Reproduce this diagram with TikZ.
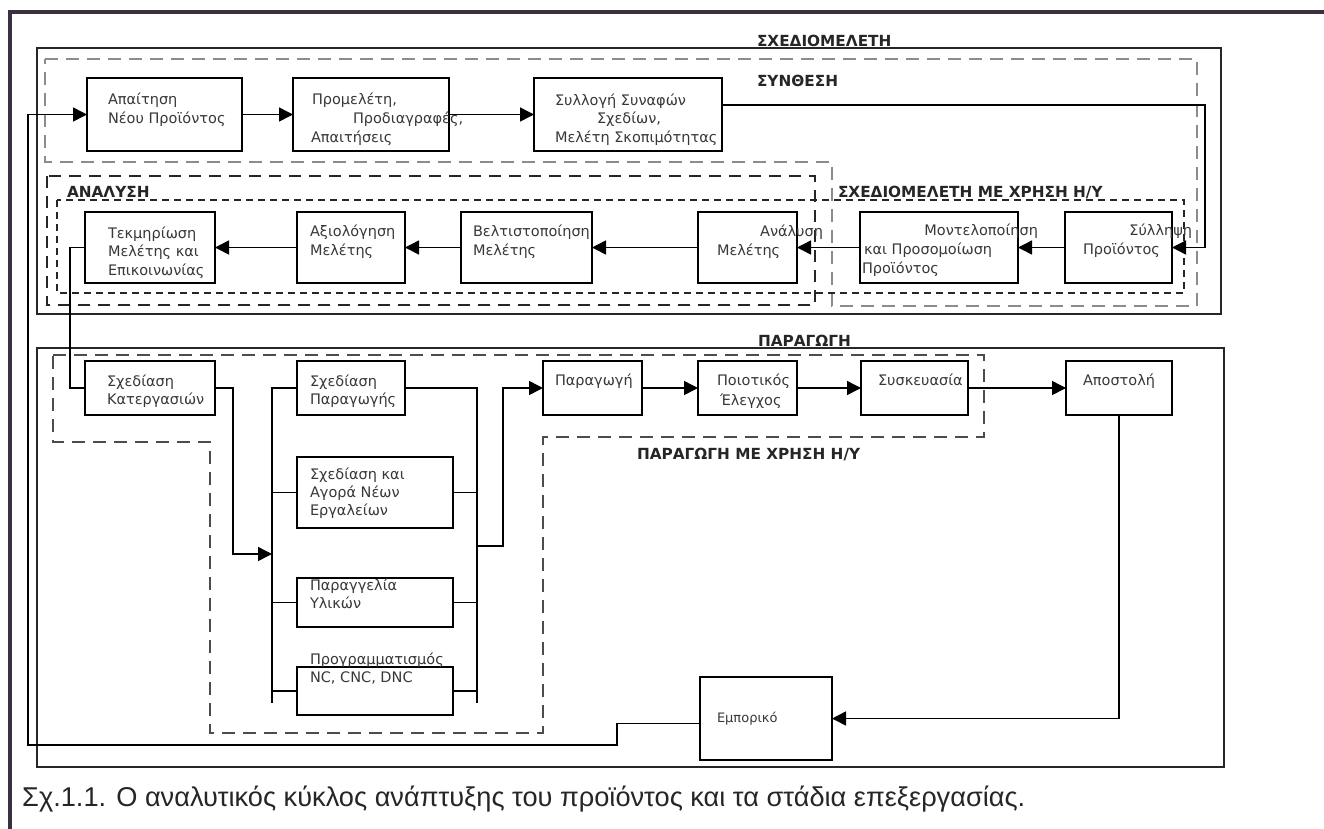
\documentclass[tikz,border=0pt]{standalone}
\usepackage{fontspec}
\setmainfont{DejaVu Sans}
\newfontfamily\capfont{Liberation Sans}
\usetikzlibrary{arrows.meta}

\tikzset{
  box/.style={draw, rectangle, line width=1.5pt, inner sep=0pt, outer sep=0pt},
  txt/.style={anchor=base west, inner sep=0pt, outer sep=0pt,
              font=\fontsize{14.5}{17}\selectfont, text=black!78},
  txtr/.style={txt, anchor=base east},
  hdr/.style={anchor=base west, inner sep=0pt, outer sep=0pt,
              font=\bfseries\fontsize{15.3}{18}\selectfont, text=black!85},
  wire/.style={line width=1.5pt},
  arr/.style={wire, -{Triangle[length=14pt,width=14pt]}},
  panel/.style={line width=1.6pt, draw=black!85},
  outerframe/.style={line width=3.2pt, draw={rgb,255:red,58;green,48;blue,64}},
  zoneG/.style={line width=2pt, draw=black!45, dash pattern=on 13pt off 8pt},
  zoneB/.style={line width=1.6pt, draw=black!85, dash pattern=on 12pt off 8pt},
  zoneS/.style={line width=1.5pt, draw=black!85, dash pattern=on 7pt off 5pt},
  zoneP/.style={line width=1.8pt, draw=black!70, dash pattern=on 13pt off 8pt},
}

\begin{document}
\begin{tikzpicture}[x=1pt, y=-1pt]
\useasboundingbox (0,0) rectangle (1324,828);
\fill[white] (0,0) rectangle (1324,828);

% page frame (left and top edges)
\draw[outerframe] (10,840) -- (10,12) -- (1330,12);

% ---------------- design stage ----------------
\draw[panel] (37,48) rectangle (1221,314);
\node[hdr] (hDesign) at (757,46) {ΣΧΕΔΙΟΜΕΛΕΤΗ};

% synthesis zone
\draw[zoneG] (45,59) -- (1197,59) -- (1197,306) -- (832,306) -- (832,162) -- (45,162) -- cycle;
\node[hdr] (hSynth) at (757,86) {ΣΥΝΘΕΣΗ};

% analysis zone
\draw[zoneB] (47,176) rectangle (815,305);
\node[hdr] (hAnal) at (67,197) {ΑΝΑΛΥΣΗ};

% computer-aided design zone
\draw[zoneS] (57,200) rectangle (1184,293);
\node[hdr] (hCAD) at (838,197) {ΣΧΕΔΙΟΜΕΛΕΤΗ ΜΕ ΧΡΗΣΗ Η/Υ};

% first row
\node[box, minimum width=155pt, minimum height=73pt] (A) at (164.5,114.5) {};
\node[box, minimum width=156pt, minimum height=73pt] (B) at (371,114.5) {};
\node[box, minimum width=188pt, minimum height=73pt] (C) at (628,114.5) {};

\node[txt] (tA1) at (108,104) {Απαίτηση};
\node[txt] (tA2) at (108,123) {Νέου Προϊόντος};
\node[txt] (tB1) at (312,104) {Προμελέτη,};
\node[txt] (tB2) at (353,123) {Προδιαγραφές,};
\node[txt] (tB3) at (311,142) {Απαιτήσεις};
\node[txt] (tC1) at (555,105) {Συλλογή Συναφών};
\node[txt] (tC2) at (597,123) {Σχεδίων,};
\node[txt] (tC3) at (555,142) {Μελέτη Σκοπιμότητας};

% second row
\node[box, minimum width=130pt, minimum height=71pt] (T) at (150,247.5) {};
\node[box, minimum width=108pt, minimum height=71pt] (X) at (351,247.5) {};
\node[box, minimum width=131pt, minimum height=71pt] (V) at (526.5,247.5) {};
\node[box, minimum width=99pt,  minimum height=71pt] (N) at (747.5,247.5) {};
\node[box, minimum width=158pt, minimum height=71pt] (M) at (939,247.5) {};
\node[box, minimum width=107pt, minimum height=71pt] (S) at (1118.5,247.5) {};

\node[txt] (tT1) at (108,238) {Τεκμηρίωση};
\node[txt] (tT2) at (108,256) {Μελέτης και};
\node[txt] (tT3) at (108,275) {Επικοινωνίας};
\node[txt] (tX1) at (310,236) {Αξιολόγηση};
\node[txt] (tX2) at (310,255) {Μελέτης};
\node[txt] (tV1) at (473,236) {Βελτιστοποίηση};
\node[txt] (tV2) at (473,255) {Μελέτης};
\node[txtr] (tN1) at (823,236) {Ανάλυση};
\node[txt] (tN2) at (717,255) {Μελέτης};
\node[txtr] (tM1) at (1038,235) {Μοντελοποίηση};
\node[txt] (tM2) at (864,254) {και Προσομοίωση};
\node[txt] (tM3) at (862,273) {Προϊόντος};
\node[txtr] (tS1) at (1192,235) {Σύλληψη};
\node[txt] (tS2) at (1083,254) {Προϊόντος};

% connectors of the design stage
\coordinate (turnCS) at (1205,105);
\draw[arr] (A.east) -- (B.west);
\draw[arr] (B.east) -- (C.west);
\draw[arr] (C.east |- turnCS) -- (turnCS) |- (S.east);
\draw[arr] (S.west) -- (M.east);
\draw[arr] (M.west) -- (N.east);
\draw[arr] (N.west) -- (V.east);
\draw[arr] (V.west) -- (X.east);
\draw[arr] (X.west) -- (T.east);

% ---------------- production stage ----------------
\draw[panel] (37,348) rectangle (1224,767);
\node[hdr] (hProd) at (758,346) {ΠΑΡΑΓΩΓΗ};

% computer-aided production zone
\draw[zoneP] (53,355) -- (984,355) -- (984,437) -- (543,437) -- (543,733)
             -- (210,733) -- (210,442) -- (53,442) -- cycle;
\node[hdr] (hCAM) at (637,459) {ΠΑΡΑΓΩΓΗ ΜΕ ΧΡΗΣΗ Η/Υ};

\node[box, minimum width=130pt, minimum height=54pt] (K)  at (150,388) {};
\node[box, minimum width=108pt, minimum height=54pt] (P1) at (351,388) {};
\node[box, minimum width=156pt, minimum height=71pt] (P2) at (375,492.5) {};
\node[box, minimum width=156pt, minimum height=49pt] (P3) at (375,602.5) {};
\node[box, minimum width=156pt, minimum height=48pt] (P4) at (375,691) {};
\node[box, minimum width=99pt,  minimum height=54pt] (PR) at (592.5,388) {};
\node[box, minimum width=99pt,  minimum height=54pt] (Q)  at (747.5,388) {};
\node[box, minimum width=107pt, minimum height=54pt] (SK) at (914.5,388) {};
\node[box, minimum width=106pt, minimum height=54pt] (AP) at (1119,388) {};
\node[box, minimum width=132pt, minimum height=83pt] (E)  at (766,718.5) {};

\node[txt] (tK1)  at (107,386) {Σχεδίαση};
\node[txt] (tK2)  at (107,404) {Κατεργασιών};
\node[txt] (tP11) at (310,386) {Σχεδίαση};
\node[txt] (tP12) at (310,404) {Παραγωγής};
\node[txt] (tP21) at (310,479) {Σχεδίαση και};
\node[txt] (tP22) at (310,497) {Αγορά Νέων};
\node[txt] (tP23) at (310,515) {Εργαλείων};
\node[txt] (tP31) at (310,590) {Παραγγελία};
\node[txt] (tP32) at (310,608) {Υλικών};
\node[txt] (tP41) at (310,664) {Προγραμματισμός};
\node[txt] (tP42) at (310,682) {NC, CNC, DNC};
\node[txt] (tPR)  at (555,385) {Παραγωγή};
\node[txt] (tQ1)  at (717,385) {Ποιοτικός};
\node[txt] (tQ2)  at (720,405) {Έλεγχος};
\node[txt] (tSK)  at (878,385) {Συσκευασία};
\node[txt] (tAP)  at (1083,385) {Αποστολή};
\node[txt, font=\fontsize{13}{15}\selectfont] (tE) at (717,722) {Εμπορικό};

% parallel planning tasks between two bus lines
\coordinate (LB) at (272,703);
\coordinate (RB) at (477,703);
\draw[wire] (P1.west) -| (LB);
\draw[wire] (P1.east) -| (RB);
\draw[wire] (P2.west) -- (P2.west -| LB);
\draw[wire] (P2.east) -- (P2.east -| RB);
\draw[wire] (P3.west) -- (P3.west -| LB);
\draw[wire] (P3.east) -- (P3.east -| RB);
\draw[wire] (P4.west) -- (P4.west -| LB);
\draw[wire] (P4.east) -- (P4.east -| RB);

% flow through production
\coordinate (tk) at (70,245);
\coordinate (kb) at (233,554);
\coordinate (rp) at (503,546);
\draw[wire] (T.west) -- (T.west -| tk) |- (K.west);
\draw[arr] (K.east) -| (kb) -- (kb -| LB);
\draw[arr] (rp -| RB) -- (rp) |- (PR.west);
\draw[arr] (PR.east) -- (Q.west);
\draw[arr] (Q.east) -- (SK.west);
\draw[arr] (SK.east) -- (AP.west);
\draw[arr] (AP.south) |- (E.east);

% feedback from marketing to a new product request
\coordinate (ea) at (617,745);
\coordinate (lf) at (28,745);
\draw[arr] ([yshift=-5pt]E.west) -| (ea) -- (lf) |- (A.west);

% caption
\node[anchor=base west, inner sep=0pt, font=\capfont\fontsize{27.2}{31}\selectfont, text=black!85]
  (cap) at (22,806) {Σχ.1.1. Ο αναλυτικός κύκλος ανάπτυξης του προϊόντος και τα στάδια επεξεργασίας.};
\end{tikzpicture}
\end{document}
